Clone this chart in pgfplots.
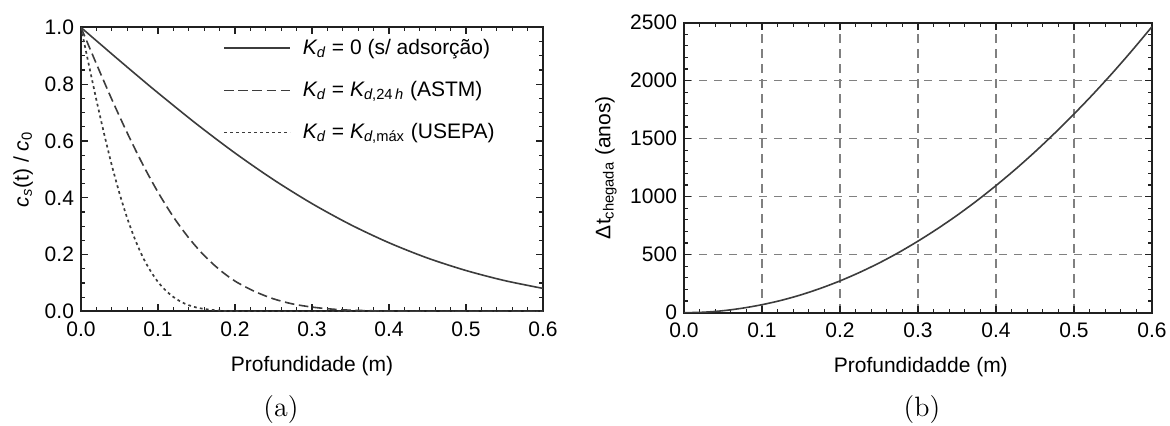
\documentclass[border=0pt]{standalone}
\usepackage{fontspec}
\usepackage{pgfplots}
\usepackage{pgfplotstable}
\pgfplotsset{compat=1.18}
\newfontfamily\arial{Liberation Sans}
\definecolor{curve}{HTML}{3C3C3C}
\definecolor{gridc}{HTML}{808080}
\definecolor{frame}{HTML}{202020}

\pgfplotstableread{
x      y
0.000  1.0000
0.025  0.9417
0.050  0.8836
0.075  0.8262
0.100  0.7697
0.150  0.6604
0.200  0.5580
0.250  0.4641
0.300  0.3799
0.350  0.3058
0.400  0.2420
0.450  0.1882
0.500  0.1443
0.550  0.1089
0.600  0.0813
}\solid

\pgfplotstableread{
x      y
0.000  1.0000
0.020  0.8720
0.040  0.7470
0.060  0.6290
0.080  0.5190
0.100  0.4200
0.120  0.3330
0.140  0.2590
0.160  0.1970
0.180  0.1470
0.200  0.1070
0.225  0.0713
0.250  0.0445
0.275  0.0265
0.300  0.0155
0.325  0.0086
0.350  0.0046
0.400  0.0012
0.450  0.0003
0.500  0.0000
0.600  0.0000
}\dashedtab

\pgfplotstableread{
x      y
0.000  1.0000
0.010  0.8710
0.020  0.7450
0.030  0.6260
0.040  0.5150
0.050  0.4160
0.060  0.3290
0.070  0.2550
0.080  0.1930
0.090  0.1440
0.100  0.1040
0.110  0.0740
0.120  0.0510
0.130  0.0340
0.140  0.0220
0.150  0.0140
0.160  0.0090
0.180  0.0030
0.200  0.0010
0.250  0.0000
0.600  0.0000
}\dottedtab

\pgfplotstableread{
x      y
0.000  0
0.025  4
0.050  17
0.075  39
0.100  69
0.125  107
0.150  154
0.175  210
0.200  274
0.225  347
0.250  428
0.275  518
0.300  617
0.325  724
0.350  839
0.375  963
0.400  1096
0.425  1237
0.450  1387
0.475  1546
0.500  1713
0.525  1888
0.550  2072
0.575  2265
0.600  2466
}\arrival

\begin{document}
\begin{tikzpicture}
\path[use as bounding box] (0,0) rectangle (585pt,213pt);
\pgfplotsset{
  mystyle/.style={
    scale only axis,
    font=\arial\fontsize{10.5}{12.5}\selectfont,
    xmin=0, xmax=0.6,
    xtick={0,0.1,0.2,0.3,0.4,0.5,0.6},
    minor x tick num=4,
    tick align=inside,
    xtick pos=both, ytick pos=both,
    xticklabel pos=bottom, yticklabel pos=left,
    major tick length=3.5pt, minor tick length=2pt,
    axis line style={line width=1pt, color=frame},
    every tick/.style={frame, line width=0.6pt},
    /pgf/number format/assume math mode=true,
    x tick label style={yshift=-4pt, inner ysep=1pt, /pgf/number format/.cd, fixed, fixed zerofill, precision=1},
    clip=true,
  }
}
\begin{axis}[
  mystyle,
  at={(40.5pt,57.25pt)}, anchor=south west,
  width=231pt, height=142pt,
  ymin=0, ymax=1,
  ytick={0,0.2,0.4,0.6,0.8,1.0},
  minor y tick num=3,
  y tick label style={inner ysep=0pt, /pgf/number format/.cd, fixed, fixed zerofill, precision=1},
  xlabel={Profundidade (m)},
  xlabel style={at={(axis description cs:0.5,-0.192)}, anchor=center},
  ylabel={{\itshape c}\textsubscript{\itshape s}(t) / {\itshape c}\textsubscript{0}},
  ylabel style={at={(axis description cs:-0.125,0.5)}, anchor=center},
  legend style={at={(axis description cs:0.307,0.975)}, anchor=north west,
    draw=none, fill=none, inner sep=0pt, row sep=8pt,
    font=\arial\fontsize{10.5}{12.5}\selectfont, cells={anchor=west}},
  legend image code/.code={\draw[#1] (0pt,0pt) -- (33pt,0pt); \path (37pt,0pt);},
]
\addplot[curve, line width=0.8pt, smooth] table[x=x,y=y] {\solid};
\addlegendentry{{\itshape K}\textsubscript{\itshape d} = 0 (s/ adsorção)}
\addplot[curve, line width=0.8pt, smooth, dash pattern=on 4.8pt off 2.3pt] table[x=x,y=y] {\dashedtab};
\addlegendentry{{\itshape K}\textsubscript{\itshape d} = {\itshape K}\textsubscript{{\itshape d},24\,{\itshape h}} (ASTM)}
\addplot[curve, line width=0.85pt, smooth, dash pattern=on 1.4pt off 1.6pt] table[x=x,y=y] {\dottedtab};
\addlegendentry{{\itshape K}\textsubscript{\itshape d} = {\itshape K}\textsubscript{{\itshape d},máx} (USEPA)}
\end{axis}

\begin{axis}[
  mystyle,
  at={(342pt,56.65pt)}, anchor=south west,
  width=234pt, height=145pt,
  ymin=0, ymax=2500,
  ytick={0,500,1000,1500,2000,2500},
  minor y tick num=4,
  scaled y ticks=false,
  y tick label style={inner ysep=0pt, /pgf/number format/.cd, fixed, precision=0, 1000 sep={}},
  grid=major,
  major grid style={gridc, line width=0.6pt, dash pattern=on 4.2pt off 3.3pt},
  xlabel={Profundidadde (m)},
  xlabel style={at={(axis description cs:0.506,-0.187)}, anchor=center},
  ylabel={Δt\textsubscript{chegada} (anos)},
  ylabel style={at={(axis description cs:-0.167,0.5)}, anchor=center},
]
\addplot[curve, line width=0.8pt, smooth] table[x=x,y=y] {\arrival};
\end{axis}

\node[font=\fontsize{14}{17}\selectfont] at (140.5pt,8pt) {(a)};
\node[font=\fontsize{14}{17}\selectfont] at (461pt,8pt) {(b)};
\end{tikzpicture}
\end{document}
